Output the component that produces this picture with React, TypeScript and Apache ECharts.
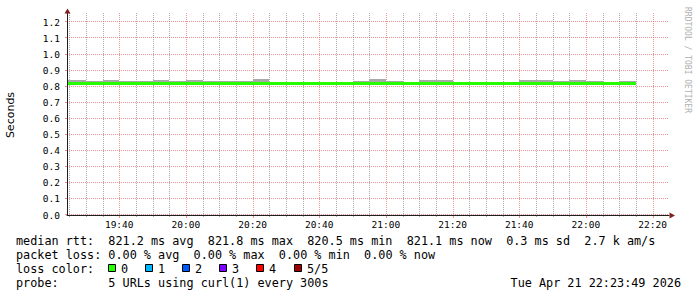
import React, { useEffect, useRef } from "react";
import * as echarts from "echarts";

// ---- data ----
const slotEnd = [
  "19:25", "19:30", "19:35", "19:40", "19:45", "19:50", "19:55", "20:00",
  "20:05", "20:10", "20:15", "20:20", "20:25", "20:30", "20:35", "20:40",
  "20:45", "20:50", "20:55", "21:00", "21:05", "21:10", "21:15", "21:20",
  "21:25", "21:30", "21:35", "21:40", "21:45", "21:50", "21:55", "22:00",
  "22:05", "22:10", "22:15",
];
const medianRtt = [
  0.8213, 0.8212, 0.8211, 0.8213, 0.8212, 0.821, 0.8214, 0.8212,
  0.8213, 0.8211, 0.821, 0.8212, 0.8218, 0.8211, 0.821, 0.8212,
  0.8211, 0.821, 0.8212, 0.8215, 0.8212, 0.821, 0.8214, 0.8213,
  0.8211, 0.821, 0.8211, 0.8212, 0.8214, 0.8213, 0.8211, 0.8214,
  0.8212, 0.8205, 0.8211,
];
const smokeMin = [
  0.8195, 0.8196, 0.8194, 0.8195, 0.8196, 0.8195, 0.8194, 0.8196,
  0.8195, 0.8194, 0.8195, 0.8196, 0.8197, 0.8195, 0.8194, 0.8195,
  0.8196, 0.8195, 0.8194, 0.8196, 0.8195, 0.8194, 0.8195, 0.8196,
  0.8195, 0.8194, 0.8195, 0.8196, 0.8195, 0.8194, 0.8195, 0.8196,
  0.8195, 0.8192, 0.8195,
];
const smokeMax = [
  0.843, 0.843, 0.837, 0.843, 0.837, 0.837, 0.843, 0.837,
  0.843, 0.836, 0.837, 0.837, 0.848, 0.828, 0.827, 0.828,
  0.827, 0.828, 0.837, 0.848, 0.837, 0.828, 0.843, 0.843,
  0.828, 0.827, 0.828, 0.827, 0.843, 0.843, 0.836, 0.843,
  0.838, 0.826, 0.838,
];
const xTickLabels = ["19:40", "20:00", "20:20", "20:40", "21:00", "21:20", "21:40", "22:00", "22:20"];
const yTickLabels = ["0.0", "0.1", "0.2", "0.3", "0.4", "0.5", "0.6", "0.7", "0.8", "0.9", "1.0", "1.1", "1.2"];
const lossLabels = ["0", "1", "2", "3", "4", "5/5"];
const lossColors = ["#26ff00", "#00b8ff", "#0059ff", "#7e00ff", "#ff0000", "#a10000"];
const statsLine1 = "median rtt:  821.2 ms avg  821.8 ms max  820.5 ms min  821.1 ms now  0.3 ms sd  2.7 k am/s";
const statsLine2 = "packet loss: 0.00 % avg  0.00 % max  0.00 % min  0.00 % now";
const statsLine3 = "loss color:";
const statsLine4 = "probe:       5 URLs using curl(1) every 300s";
const dateText = "Tue Apr 21 22:23:49 2026";
const yTitle = "Seconds";
const watermark = "RRDTOOL / TOBI OETIKER";

// ---- helpers ----
const toMin = (s: string) => {
  const [h, m, sec] = s.split(":").map(Number);
  return h * 60 + m + (sec || 0) / 60;
};
const fmtMin = (v: number) => {
  const r = Math.round(v);
  const h = Math.floor(r / 60);
  const m = r % 60;
  return `${h}:${m < 10 ? "0" : ""}${m}`;
};

const X_MIN = toMin("19:24:20");
const X_MAX = X_MIN + 180.6;
const STEP = 5;

const GRID = "rgba(143,143,143,0.75)";
const MGRID = "rgba(222,79,79,0.6)";
const AXIS = "rgb(31,31,31)";
const ARROW = "rgb(128,31,31)";
const MONO = '"DejaVu Sans Mono", monospace';
const SANS = '"DejaVu Sans", sans-serif';
const LEG_FS = 11.8;
const CH = LEG_FS * 0.602;
const LEG_X = 16;

function lineTexts(line: string, y: number) {
  const out: any[] = [];
  const re = /\S+(?: \S+)*/g;
  let m: RegExpExecArray | null;
  while ((m = re.exec(line))) {
    out.push({
      type: "text",
      x: LEG_X + m.index * CH,
      y,
      silent: true,
      style: {
        text: m[0],
        fontFamily: MONO,
        fontSize: LEG_FS,
        fill: "#000",
        align: "left",
        verticalAlign: "middle",
      },
    });
  }
  return out;
}

export default function App() {
  const ref = useRef<HTMLDivElement>(null);

  useEffect(() => {
    const chart = echarts.init(ref.current!, undefined, { renderer: "svg" });

    const vGridData: number[][] = [];
    for (let t = Math.ceil(X_MIN / STEP) * STEP; t <= X_MAX; t += STEP) {
      vGridData.push([t, t % 20 === 0 ? 1 : 0]);
    }
    const hGridData = yTickLabels.map((l) => [X_MIN, parseFloat(l)]);

    const smokeData = slotEnd.map((s, i) => [toMin(s), smokeMin[i], smokeMax[i]]);
    const medianData = slotEnd.map((s, i) => [toMin(s), medianRtt[i]]);

    const graphic: any[] = [
      {
        type: "text",
        x: 10.5,
        y: 115,
        rotation: Math.PI / 2,
        silent: true,
        style: { text: yTitle, fontFamily: SANS, fontSize: 11, fill: "#000", align: "center", verticalAlign: "middle" },
      },
      {
        type: "text",
        x: 687,
        y: 60,
        rotation: -Math.PI / 2,
        silent: true,
        style: { text: watermark, fontFamily: MONO, fontSize: 8, fill: "#b0b0b0", align: "center", verticalAlign: "middle" },
      },
      {
        type: "polygon",
        silent: true,
        shape: { points: [[64.5, 13.5], [70.5, 13.5], [67.5, 8.5]] },
        style: { fill: ARROW },
        z: 20,
      },
      {
        type: "polygon",
        silent: true,
        shape: { points: [[669.5, 212.5], [669.5, 218.5], [675, 215.5]] },
        style: { fill: ARROW },
        z: 20,
      },
      ...lineTexts(statsLine1, 241),
      ...lineTexts(statsLine2, 255),
      ...lineTexts(statsLine3, 269),
      ...lineTexts(statsLine4, 283.3),
      {
        type: "text",
        x: 681,
        y: 283.3,
        silent: true,
        style: { text: dateText, fontFamily: MONO, fontSize: LEG_FS, fill: "#000", align: "right", verticalAlign: "middle" },
      },
    ];
    lossLabels.forEach((lab, i) => {
      const bx = 108.5 + Math.round(i * 37.1);
      graphic.push({
        type: "rect",
        silent: true,
        shape: { x: bx, y: 264.5, width: 7, height: 7 },
        style: { fill: lossColors[i], stroke: "#000", lineWidth: 1 },
      });
      graphic.push({
        type: "text",
        x: bx + 12.5,
        y: 269,
        silent: true,
        style: { text: lab, fontFamily: MONO, fontSize: LEG_FS, fill: "#000", align: "left", verticalAlign: "middle" },
      });
    });

    const option: any = {
      animation: false,
      backgroundColor: "#ffffff",
      grid: { left: 67, top: 13, width: 602, height: 202 },
      xAxis: {
        type: "value",
        min: X_MIN,
        max: X_MAX,
        z: 10,
        axisLine: { show: true, lineStyle: { color: AXIS, width: 1 } },
        axisTick: { show: false },
        splitLine: { show: false },
        axisLabel: {
          customValues: xTickLabels.map(toMin),
          formatter: (v: number) => fmtMin(v),
          fontFamily: MONO,
          fontSize: 9.5,
          color: "#000",
          margin: 4,
        },
      },
      yAxis: {
        type: "value",
        min: 0,
        max: 202 / 160.5,
        z: 10,
        axisLine: { show: true, lineStyle: { color: AXIS, width: 1 } },
        axisTick: { show: false },
        splitLine: { show: false },
        axisLabel: {
          customValues: yTickLabels.map((l) => parseFloat(l)),
          formatter: (v: number) => v.toFixed(1),
          fontFamily: MONO,
          fontSize: 9.5,
          color: "#000",
          margin: 7,
        },
      },
      series: [
        {
          type: "custom",
          silent: true,
          z: 1,
          data: vGridData,
          renderItem: (params: any, api: any) => {
            const t = api.value(0);
            const major = api.value(1) === 1;
            const cs = params.coordSys;
            const x = Math.round(api.coord([t, 0])[0]) + 0.5;
            const top = cs.y;
            const bot = cs.y + cs.height;
            const color = major ? MGRID : GRID;
            return {
              type: "group",
              children: [
                { type: "line", shape: { x1: x, y1: top, x2: x, y2: bot }, style: { stroke: color, lineWidth: 1, lineDash: [1, 1] } },
                { type: "line", shape: { x1: x, y1: bot, x2: x, y2: bot + (major ? 3 : 2) }, style: { stroke: color, lineWidth: 1 } },
              ],
            };
          },
        },
        {
          type: "custom",
          silent: true,
          z: 1,
          data: hGridData,
          renderItem: (params: any, api: any) => {
            const v = api.value(1);
            const cs = params.coordSys;
            const y = Math.round(api.coord([X_MIN, v])[1]) - 0.5;
            const left = cs.x;
            const right = cs.x + cs.width;
            return {
              type: "group",
              children: [
                { type: "line", shape: { x1: left, y1: y, x2: right, y2: y }, style: { stroke: MGRID, lineWidth: 1, lineDash: [1, 1] } },
                { type: "line", shape: { x1: left - 2, y1: y, x2: left, y2: y }, style: { stroke: MGRID, lineWidth: 1 } },
              ],
            };
          },
        },
        {
          type: "custom",
          silent: true,
          z: 2,
          data: smokeData,
          renderItem: (params: any, api: any) => {
            const end = api.value(0);
            const lo = api.value(1);
            const hi = api.value(2);
            const cs = params.coordSys;
            const p1 = api.coord([end - STEP, hi]);
            const p2 = api.coord([end, lo]);
            const x1 = Math.max(Math.round(p1[0]), cs.x);
            const x2 = Math.min(Math.round(p2[0]), cs.x + cs.width);
            const y1 = Math.round(p1[1]);
            const y2 = Math.round(p2[1]);
            return {
              type: "rect",
              shape: { x: x1, y: y1, width: x2 - x1, height: y2 - y1 },
              style: { fill: "#a8a8a8" },
            };
          },
        },
        {
          type: "custom",
          silent: true,
          z: 3,
          data: medianData,
          renderItem: (params: any, api: any) => {
            const end = api.value(0);
            const v = api.value(1);
            const cs = params.coordSys;
            const p1 = api.coord([end - STEP, v]);
            const p2 = api.coord([end, v]);
            const x1 = Math.max(Math.round(p1[0]), cs.x);
            const x2 = Math.min(Math.round(p2[0]), cs.x + cs.width);
            const y = Math.round(p1[1] - 1.5);
            return {
              type: "rect",
              shape: { x: x1, y, width: x2 - x1, height: 3 },
              style: { fill: lossColors[0] },
            };
          },
        },
      ],
      graphic,
    };

    chart.setOption(option);
    return () => chart.dispose();
  }, []);

  return (
    <div
      ref={ref}
      style={{ position: "absolute", left: 0, top: 0, width: 697, height: 297, background: "#fff" }}
    />
  );
}
